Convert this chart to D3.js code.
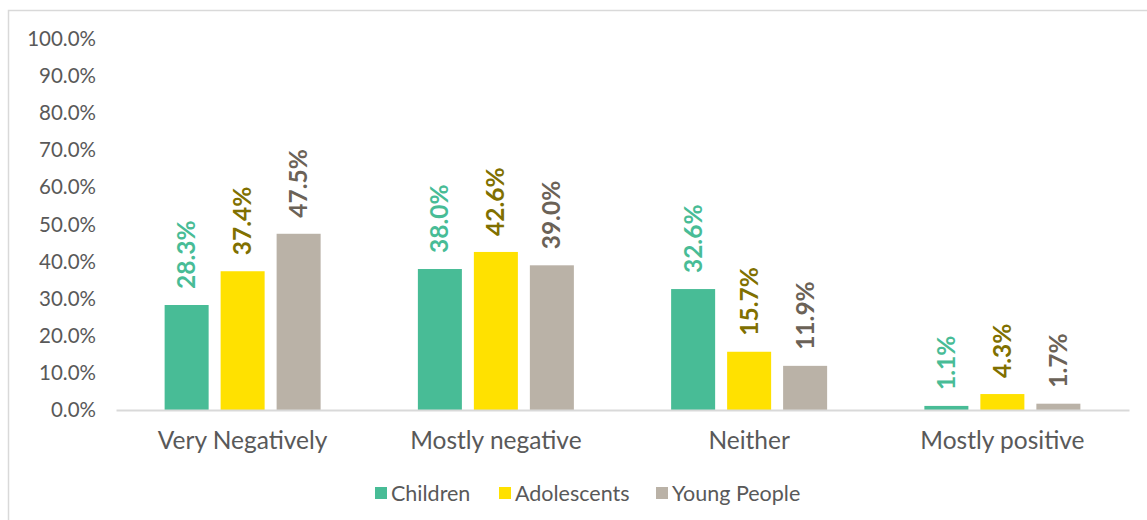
<!DOCTYPE html>
<html><head><meta charset="utf-8">
<script src="https://cdn.jsdelivr.net/npm/d3@7"></script>
<style>
body{margin:0;background:#fff;}
text{font-family:Lato,"Open Sans",sans-serif;}
</style></head>
<body><svg id="c" width="1147" height="520"></svg>
<script>
const categories = ["Very Negatively","Mostly negative","Neither","Mostly positive"];
const seriesNames = ["Children","Adolescents","Young People"];
const children = [28.3, 38.0, 32.6, 1.1];
const adolescents = [37.4, 42.6, 15.7, 4.3];
const youngPeople = [47.5, 39.0, 11.9, 1.7];
const yTicks = [0,10,20,30,40,50,60,70,80,90,100];
const barColors = ["#48BC96","#FFE100","#BAB2A7"];
const labelColors = ["#48BC96","#807000","#6B6257"];

const series = [children, adolescents, youngPeople];
const svg = d3.select("#c");

// chart border
svg.append("rect").attr("x",8.5).attr("y",10.5).attr("width",1200).attr("height",600)
  .attr("fill","none").attr("stroke","#d9d9d9").attr("stroke-width",1.5);

const x = d3.scaleBand().domain(categories).range([116,1129]);
const y = d3.scaleLinear().domain([0,100]).range([410,39]);
const inner = d3.scaleBand().domain(d3.range(3)).range([0,156]).paddingInner(0.214);

// y axis labels
const yAxis = d3.axisLeft(y).tickValues(yTicks).tickFormat(d=>d3.format(".1f")(d)+"%").tickSize(0).tickPadding(0);
const ya = svg.append("g").attr("transform","translate(96,0)").call(yAxis);
ya.select(".domain").remove();
ya.selectAll("text").attr("font-size",20.5).attr("fill","#595959").attr("font-family","Lato,sans-serif");

// bars
const groups = svg.append("g");
series.forEach((vals,si)=>{
  categories.forEach((c,ci)=>{
    const bx = x(c) + (x.bandwidth()-156)/2 + inner(si);
    groups.append("rect").attr("x",bx).attr("y",y(vals[ci]))
      .attr("width",inner.bandwidth()).attr("height",y(0)-y(vals[ci]))
      .attr("fill",barColors[si]);
    const cx = bx + inner.bandwidth()/2;
    const ty = y(vals[ci]) - 16;
    groups.append("text").attr("transform",`translate(${cx},${ty}) rotate(-90)`)
      .attr("dy","0.35em").attr("text-anchor","start")
      .attr("font-size",24.5).attr("font-weight","bold").attr("fill",labelColors[si])
      .text(d3.format(".1f")(vals[ci])+"%");
  });
});

// x axis baseline + labels
const xa = svg.append("g").attr("transform","translate(0,410)").call(d3.axisBottom(x).tickSize(0).tickPadding(22));
xa.select(".domain").attr("stroke","#d9d9d9").attr("stroke-width",2);
xa.selectAll("text").attr("font-size",24.5).attr("fill","#595959").attr("font-family","Lato,sans-serif");

// legend
const legendX = [375, 499, 656];
seriesNames.forEach((n,i)=>{
  const g = svg.append("g").attr("transform",`translate(${legendX[i]},493)`);
  g.append("rect").attr("x",0).attr("y",-6).attr("width",12).attr("height",12).attr("fill",barColors[i]);
  g.append("text").attr("x",16).attr("dy","0.35em").attr("font-size",21.5).attr("fill","#595959").text(n);
});
</script></body></html>
